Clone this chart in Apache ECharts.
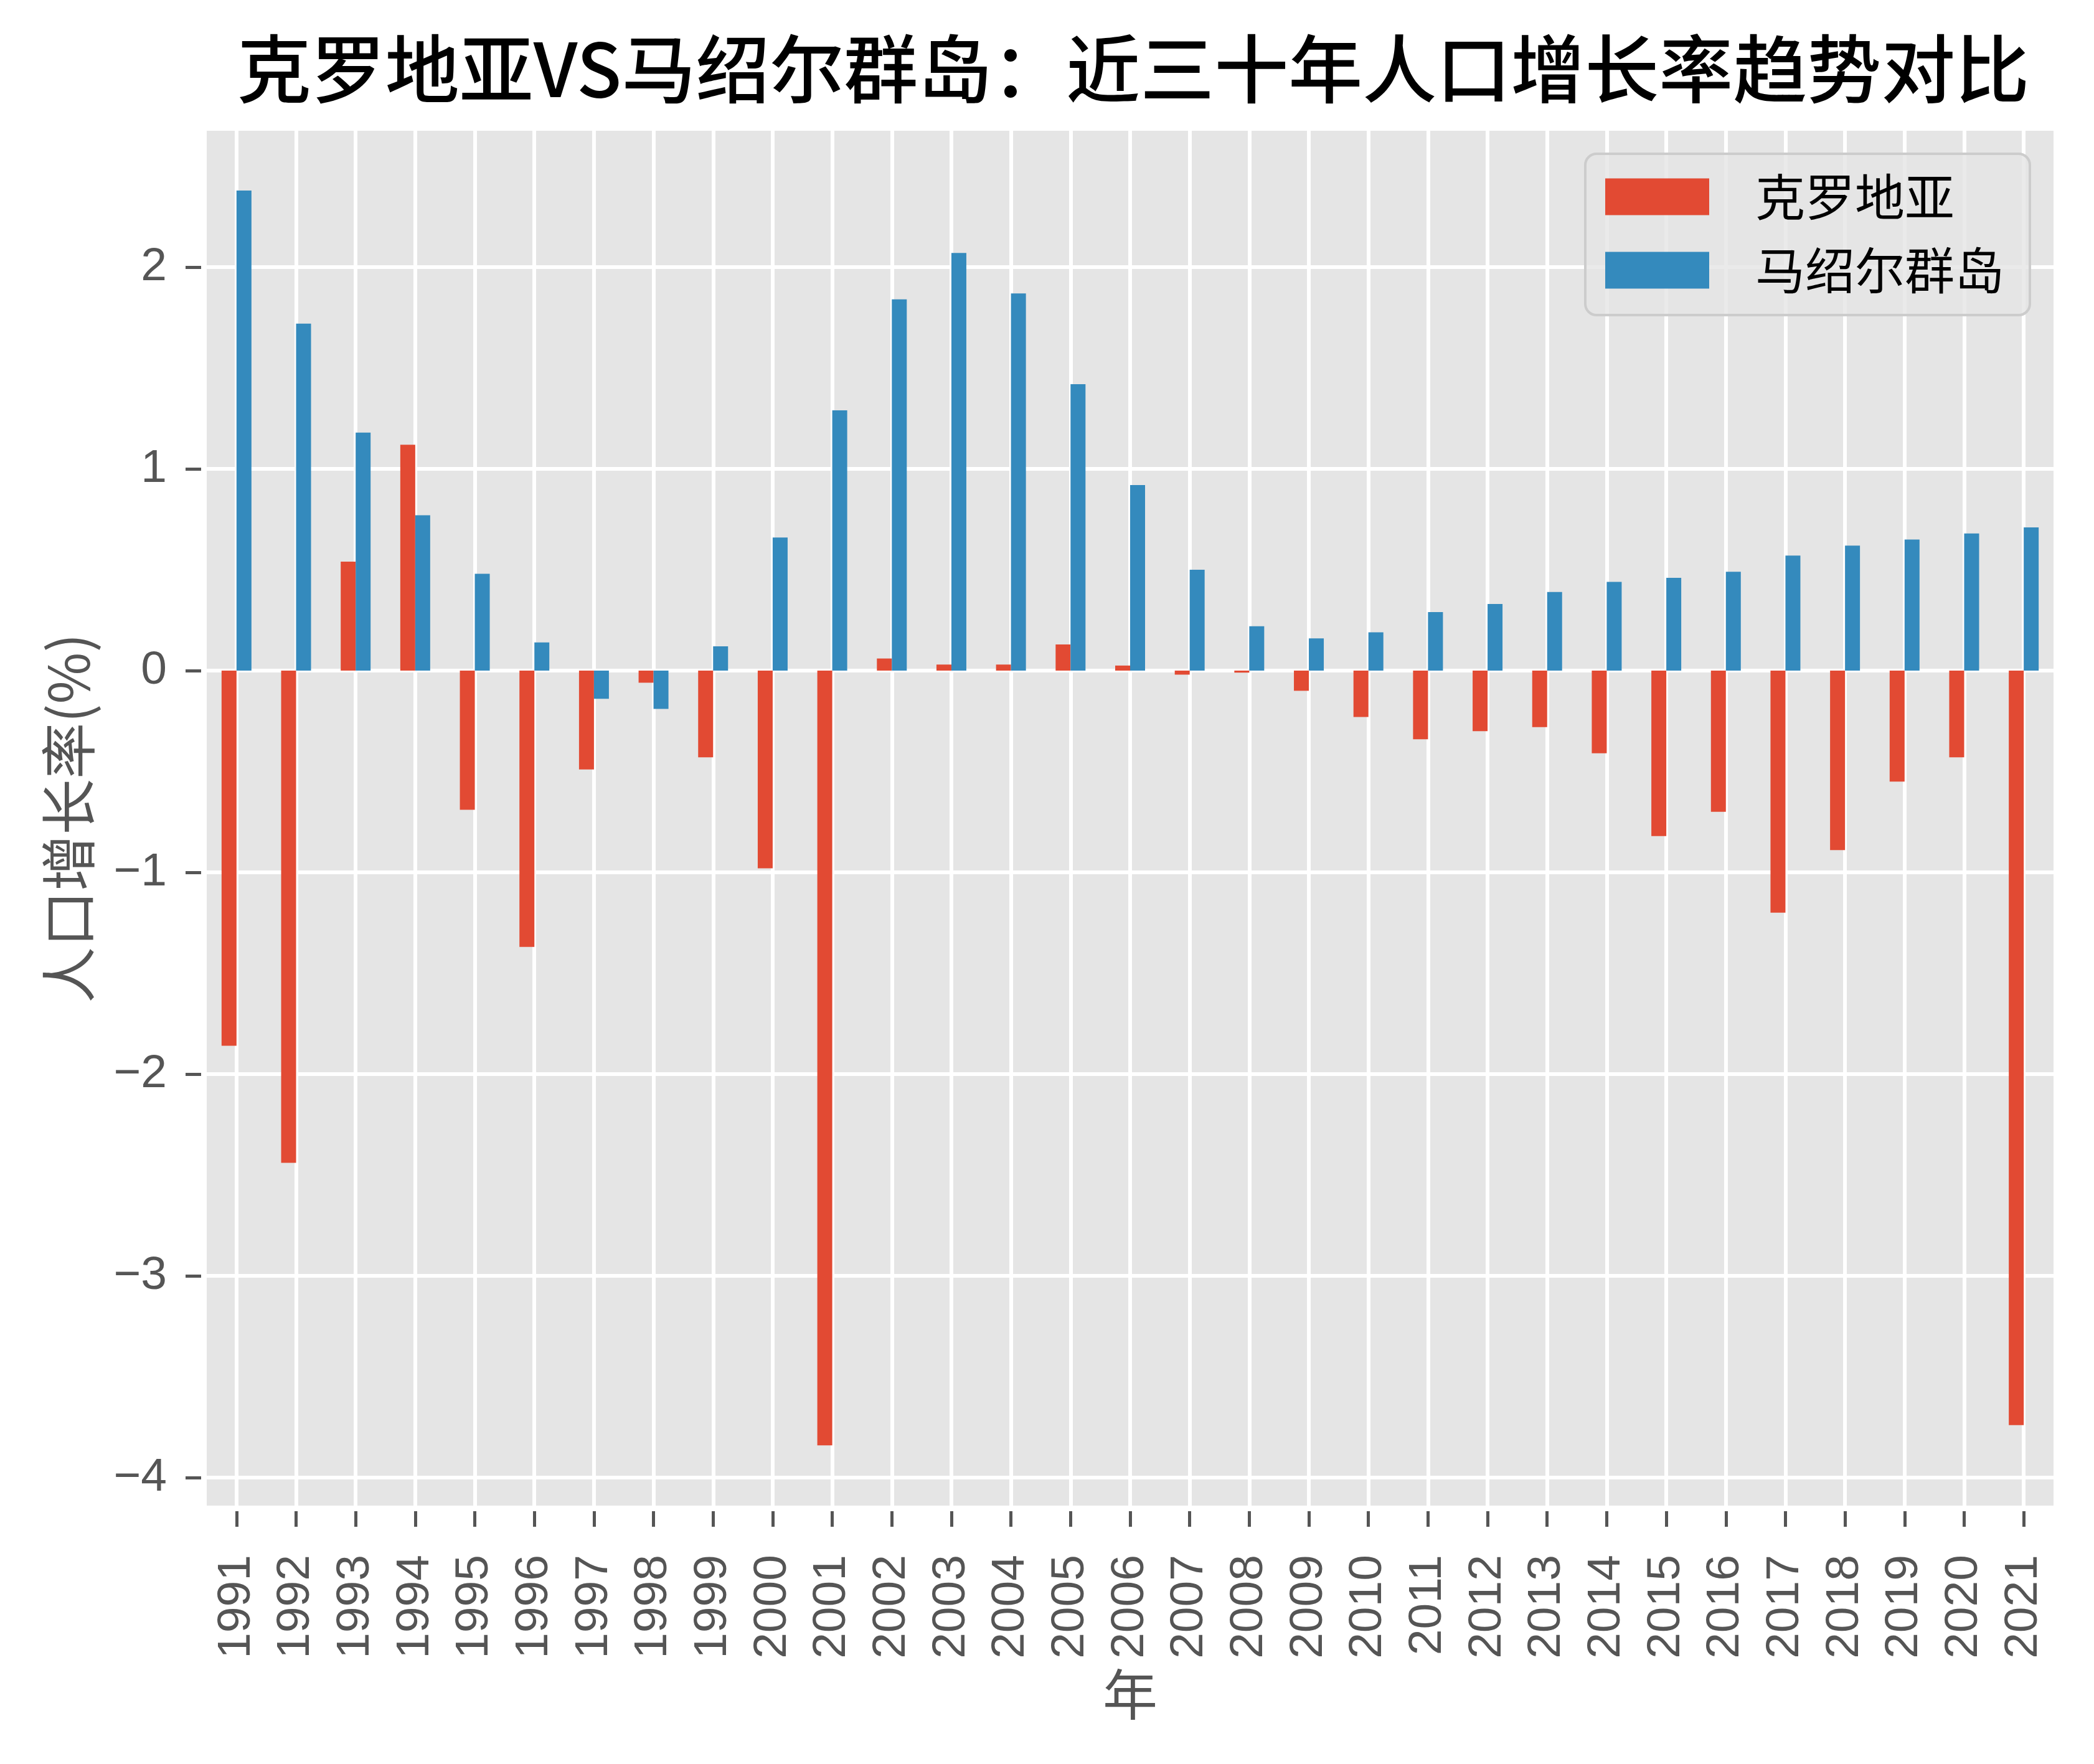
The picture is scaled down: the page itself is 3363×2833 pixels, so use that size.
<!DOCTYPE html>
<html>
<head>
<meta charset="utf-8">
<script src="https://cdn.jsdelivr.net/npm/echarts@6/dist/echarts.min.js"></script>
<style>
  html, body { margin: 0; padding: 0; background: #ffffff; }
  #chart { width: 3363px; height: 2833px; }
</style>
</head>
<body>
<div id="chart"></div>
<script>
// ---- data ----
const years = ['1991','1992','1993','1994','1995','1996','1997','1998','1999','2000',
  '2001','2002','2003','2004','2005','2006','2007','2008','2009','2010',
  '2011','2012','2013','2014','2015','2016','2017','2018','2019','2020','2021'];
const croatia = [-1.86, -2.44, 0.54, 1.12, -0.69, -1.37, -0.49, -0.06, -0.43, -0.98,
  -3.84, 0.06, 0.03, 0.03, 0.13, 0.025, -0.02, -0.01, -0.10, -0.23,
  -0.34, -0.30, -0.28, -0.41, -0.82, -0.70, -1.20, -0.89, -0.55, -0.43, -3.74];
const marshall = [2.38, 1.72, 1.18, 0.77, 0.48, 0.14, -0.14, -0.19, 0.12, 0.66,
  1.29, 1.84, 2.07, 1.87, 1.42, 0.92, 0.50, 0.22, 0.16, 0.19,
  0.29, 0.33, 0.39, 0.44, 0.46, 0.49, 0.57, 0.62, 0.65, 0.68, 0.71];
const yTicks = [-4, -3, -2, -1, 0, 1, 2];
const seriesNames = ['克罗地亚', '马绍尔群岛'];
const titleText = '克罗地亚VS马绍尔群岛：近三十年人口增长率趋势对比';
const xName = '年';
const yName = '人口增长率(%)';

const chart = echarts.init(document.getElementById('chart'), null, { renderer: 'canvas' });
const tickFont = 'Liberation Sans, Arial, sans-serif';
const cjkFont = 'Noto Sans CJK SC, sans-serif';

chart.setOption({
  animation: false,
  backgroundColor: '#ffffff',
  title: {
    text: titleText,
    left: 1815,
    textAlign: 'center',
    top: 46,
    textStyle: { fontSize: 119, fontWeight: 500, color: '#000000', fontFamily: cjkFont }
  },
  legend: {
    orient: 'vertical',
    left: 2546,
    top: 247,
    icon: 'rect',
    itemWidth: 167,
    itemHeight: 59,
    itemGap: 38,
    padding: [29, 41, 32, 32],
    backgroundColor: 'rgba(229,229,229,0.8)',
    borderColor: '#cccccc',
    borderWidth: 4,
    borderRadius: 18,
    textStyle: { fontSize: 80, color: '#000000', lineHeight: 80, fontFamily: cjkFont, padding: [0, 0, 0, 69] },
    data: seriesNames
  },
  grid: {
    left: 332, right: 65, top: 210, bottom: 415,
    show: true, backgroundColor: '#E5E5E5', borderWidth: 0,
    containLabel: false
  },
  xAxis: {
    type: 'category',
    data: years,
    offset: 9,
    name: xName,
    nameLocation: 'middle',
    nameGap: 250,
    nameTextStyle: { fontSize: 88, color: '#555555', fontFamily: cjkFont },
    axisLine: { show: false, onZero: false },
    axisTick: { show: true, length: 25, alignWithLabel: true, lineStyle: { color: '#555555', width: 5 } },
    axisLabel: { rotate: 90, margin: 70, fontSize: 75, color: '#555555', fontFamily: tickFont, interval: 0 },
    splitLine: { show: true, alignWithLabel: true, lineStyle: { color: '#ffffff', width: 6 } }
  },
  yAxis: {
    type: 'value',
    min: -4.139,
    max: 2.676,
    offset: 9,
    name: yName,
    nameLocation: 'middle',
    nameGap: 168,
    nameRotate: 90,
    nameTextStyle: { fontSize: 90, color: '#555555', fontFamily: cjkFont },
    axisLine: { show: false, onZero: false },
    axisTick: { show: true, length: 25, customValues: yTicks, lineStyle: { color: '#555555', width: 5 } },
    axisLabel: {
      customValues: yTicks, margin: 55, fontSize: 75, color: '#555555', fontFamily: tickFont,
      formatter: v => String(v).replace('-', '\u2212')
    },
    splitLine: { show: true, lineStyle: { color: '#ffffff', width: 6 } }
  },
  series: [
    { name: seriesNames[0], type: 'bar', data: croatia, barWidth: 24, barGap: '0%',
      itemStyle: { color: '#E24A33' } },
    { name: seriesNames[1], type: 'bar', data: marshall, barWidth: 24, barGap: '0%',
      itemStyle: { color: '#348ABD' } }
  ]
});
</script>
</body>
</html>
